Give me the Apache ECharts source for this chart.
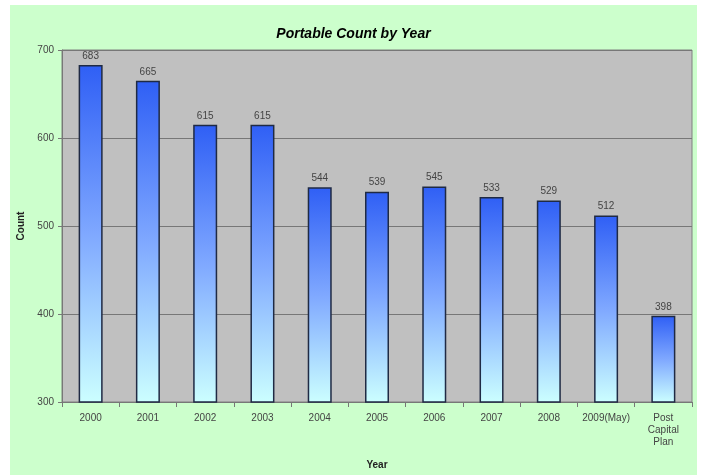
<!DOCTYPE html>
<html><head><meta charset="utf-8">
<script src="https://cdn.jsdelivr.net/npm/echarts@6/dist/echarts.min.js"></script>
<style>html,body{margin:0;padding:0;background:#fff}#c{width:707px;height:475px}</style>
</head><body><div id="c"></div>
<script>
const categories = ['2000','2001','2002','2003','2004','2005','2006','2007','2008','2009(May)','Post\nCapital\nPlan'];
const counts = [683,665,615,615,544,539,545,533,529,512,398];
const yTicks = {min:300, max:700, interval:100};

const chart = echarts.init(document.getElementById('c'), null, {renderer:'canvas'});
chart.setOption({
  backgroundColor:'#ffffff',
  animation:false,
  graphic:[{type:'rect', z:-10, silent:true, shape:{x:10,y:5,width:687,height:470}, style:{fill:'#ccffcc'}}],
  title:{text:'Portable Count by Year', left:'center', top:22,
    textStyle:{fontFamily:'Liberation Sans', fontSize:14, fontWeight:'bold', fontStyle:'italic', color:'#000'}},
  grid:{left:62, top:50, right:15, bottom:72, show:true, backgroundColor:'#c0c0c0', borderColor:'#808080', borderWidth:1},
  xAxis:{type:'category', data:categories, name:'Year', nameLocation:'middle', nameGap:58,
    nameTextStyle:{fontFamily:'Liberation Sans', fontSize:10, fontWeight:'bold', color:'#222'},
    axisLine:{lineStyle:{color:'#777'}}, axisTick:{show:true, lineStyle:{color:'#777'}},
    axisLabel:{fontFamily:'Liberation Sans', fontSize:10, color:'#444', margin:10, lineHeight:12, interval:0}},
  yAxis:{type:'value', min:yTicks.min, max:yTicks.max, interval:yTicks.interval, name:'Count', nameLocation:'middle', nameGap:34,
    nameTextStyle:{fontFamily:'Liberation Sans', fontSize:10, fontWeight:'bold', color:'#222'},
    axisLine:{show:true, lineStyle:{color:'#777'}}, axisTick:{show:true, length:4, lineStyle:{color:'#777'}},
    splitLine:{lineStyle:{color:'#777', width:1}},
    axisLabel:{fontFamily:'Liberation Sans', fontSize:10, color:'#444', margin:8}},
  series:[{type:'bar', data:counts, barWidth:24,
    itemStyle:{borderColor:'#1f2a44', borderWidth:1.5,
      color:new echarts.graphic.LinearGradient(0,0,0,1,[{offset:0,color:'#2f5ff5'},{offset:0.5,color:'#7fa8ff'},{offset:1,color:'#ccffff'}])},
    label:{show:true, position:'top', distance:4, fontFamily:'Liberation Sans', fontSize:10, color:'#444'}}]
});
</script></body></html>
